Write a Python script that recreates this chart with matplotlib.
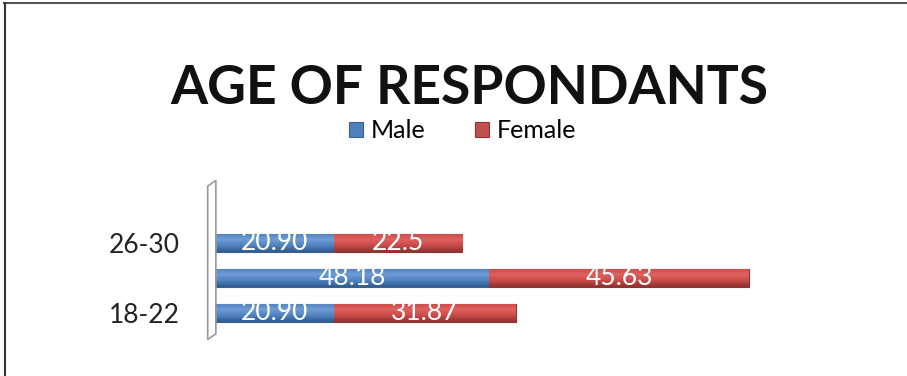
import matplotlib.pyplot as plt
import numpy as np
from matplotlib.colors import LinearSegmentedColormap
from matplotlib.lines import Line2D
from matplotlib.patches import Polygon

# Age groups, bottom to top; only the outer groups carry a tick label
categorias = ["18-22", "22-26", "26-30"]
etiquetas_eje = ["18-22", "", "26-30"]
hombres = [20.90, 48.18, 20.90]
mujeres = [31.87, 45.63, 22.5]
etiq_hombres = ["20.90", "48.18", "20.90"]
etiq_mujeres = ["31.87", "45.63", "22.5"]

AZUL = "#4F81BD"
ROJO = "#C0504D"
FUENTE = "Lato"

# cylinder-like shading: dark bottom, light top
GRAD_AZUL = LinearSegmentedColormap.from_list("azul", ["#2E5A8E", "#4F81BD", "#6E9CD6", "#4F81BD"])
GRAD_ROJO = LinearSegmentedColormap.from_list("rojo", ["#8E3230", "#C84A48", "#E0625F", "#C84A48"])


def sombrear(ax, barras, cmap):
    grad = np.linspace(0, 1, 64).reshape(-1, 1)
    for b in barras:
        x0, y0 = b.get_x(), b.get_y()
        im = ax.imshow(grad, cmap=cmap, aspect="auto", origin="lower",
                       extent=[x0, x0 + b.get_width(), y0, y0 + b.get_height()], zorder=2)
        im.set_clip_path(b)


fig = plt.figure(figsize=(9.07, 3.76), dpi=100)
fig.patch.set_facecolor("white")

# frame lines along the top and left edge
fig.add_artist(Line2D([0.004, 1.0], [0.993, 0.993], transform=fig.transFigure, color="#555555", lw=1.5))
fig.add_artist(Line2D([0.005, 0.005], [0.0, 0.993], transform=fig.transFigure, color="#333333", lw=1.5))

ax = fig.add_axes([0.237, 0.112, 0.628, 0.298])
y = range(len(categorias))
b_h = ax.barh(y, hombres, height=0.52, color=AZUL, edgecolor="#3A6190", lw=0.8, label="Male")
b_m = ax.barh(y, mujeres, left=hombres, height=0.52, color=ROJO, edgecolor="#8E3432", lw=0.8, label="Female")
sombrear(ax, b_h, GRAD_AZUL)
sombrear(ax, b_m, GRAD_ROJO)

for i in y:
    ax.text(hombres[i] / 2, i, etiq_hombres[i], ha="center", va="center",
            color="white", fontsize=19, family=FUENTE, zorder=3)
    ax.text(hombres[i] + mujeres[i] / 2, i, etiq_mujeres[i], ha="center", va="center",
            color="white", fontsize=19, family=FUENTE, zorder=3)

ax.set_xlim(0, 100)
ax.set_ylim(-0.6, 2.6)
ax.set_yticks(list(y))
ax.set_yticklabels(etiquetas_eje, fontsize=19, family=FUENTE, color="#222222")
ax.set_xticks([])
ax.tick_params(axis="y", length=0, pad=25)
for s in ax.spines.values():
    s.set_visible(False)

# thin 3D back wall next to the category axis
pared = Polygon([[0.229, 0.097], [0.238, 0.112], [0.238, 0.52], [0.229, 0.505]],
                closed=True, transform=fig.transFigure, fill=False,
                edgecolor="#9A9A9A", lw=1.2)
fig.add_artist(pared)

fig.text(0.518, 0.765, "AGE OF RESPONDANTS", ha="center", va="center",
         fontsize=38.5, fontweight="bold", family=FUENTE, color="#111111")
fig.legend(loc="center", bbox_to_anchor=(0.51, 0.652), ncol=2, frameon=False,
           prop={"family": FUENTE, "size": 18}, handlelength=0.55, handleheight=0.55,
           handletextpad=0.3, columnspacing=2.0)

fig.savefig("out.png", dpi=100, facecolor="white")
